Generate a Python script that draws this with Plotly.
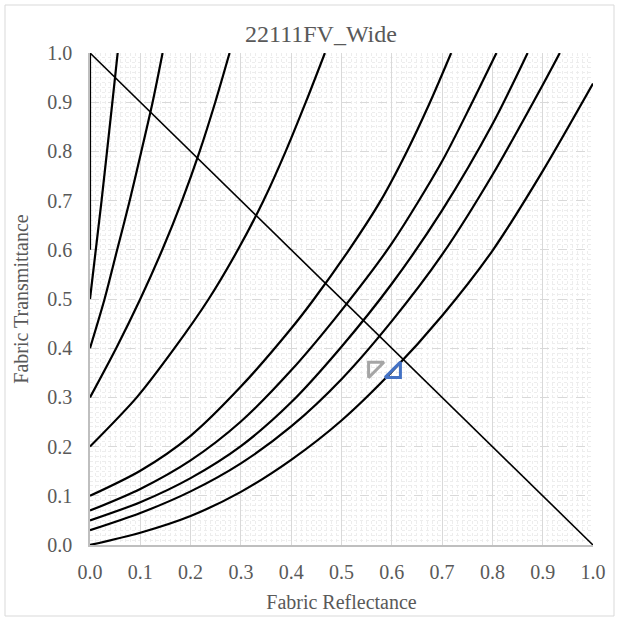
import plotly.graph_objects as go

# ---- data ----
title_text = "22111FV_Wide"
x_title = "Fabric Reflectance"
y_title = "Fabric Transmittance"
tick_vals = [0.0, 0.1, 0.2, 0.3, 0.4, 0.5, 0.6, 0.7, 0.8, 0.9, 1.0]
tick_text = ["0.0", "0.1", "0.2", "0.3", "0.4", "0.5", "0.6", "0.7", "0.8", "0.9", "1.0"]

c00_x = [0, 0.1, 0.2, 0.3, 0.4, 0.5, 0.6, 0.7, 0.8, 0.9, 1.0]
c00_y = [0, 0.025, 0.059, 0.108, 0.173, 0.253, 0.352, 0.466, 0.598, 0.76, 0.938]

c03_x = [0, 0.1, 0.2, 0.3, 0.4, 0.5, 0.6, 0.7, 0.8, 0.9, 0.934]
c03_y = [0.03, 0.065, 0.109, 0.166, 0.241, 0.337, 0.455, 0.59, 0.752, 0.935, 1.0]

c05_x = [0, 0.1, 0.2, 0.3, 0.4, 0.5, 0.6, 0.7, 0.8, 0.87]
c05_y = [0.05, 0.087, 0.136, 0.201, 0.29, 0.403, 0.531, 0.68, 0.855, 1.0]

c07_x = [0, 0.1, 0.2, 0.3, 0.4, 0.5, 0.6, 0.7, 0.76, 0.808]
c07_y = [0.07, 0.114, 0.172, 0.251, 0.355, 0.477, 0.613, 0.78, 0.9, 1.0]

c10_x = [0, 0.1, 0.2, 0.3, 0.4, 0.444, 0.515, 0.578, 0.63, 0.676, 0.718]
c10_y = [0.1, 0.151, 0.222, 0.322, 0.44, 0.498, 0.6, 0.7, 0.8, 0.9, 1.0]

c20_x = [0, 0.093, 0.168, 0.236, 0.294, 0.345, 0.389, 0.429, 0.467]
c20_y = [0.2, 0.3, 0.4, 0.5, 0.6, 0.7, 0.8, 0.9, 1.0]

c30_x = [0, 0.052, 0.1, 0.1437, 0.183, 0.218, 0.249, 0.2775]
c30_y = [0.3, 0.4, 0.5, 0.6, 0.7, 0.8, 0.9, 1.0]

c40_x = [0, 0.029, 0.054, 0.079, 0.102, 0.1245, 0.1443]
c40_y = [0.4, 0.5, 0.6, 0.7, 0.8, 0.9, 1.0]

c50_x = [0, 0.023, 0.0445, 0.055]
c50_y = [0.5, 0.7, 0.9, 1.0]

c60_x = [0, 0]
c60_y = [0.6, 1.0]

diag_x = [0, 1]
diag_y = [1, 0]

gray_pt_x = [0.564]
gray_pt_y = [0.361]
blue_pt_x = [0.607]
blue_pt_y = [0.351]

curves = [
    (c00_x, c00_y), (c03_x, c03_y), (c05_x, c05_y), (c07_x, c07_y),
    (c10_x, c10_y), (c20_x, c20_y), (c30_x, c30_y), (c40_x, c40_y),
    (c50_x, c50_y), (c60_x, c60_y),
]

FONT = "Liberation Serif"
TXT = "#595959"

fig = go.Figure()
for cx, cy in curves:
    fig.add_trace(go.Scatter(x=cx, y=cy, mode="lines",
                             line=dict(color="black", width=2.2, shape="spline", smoothing=0.8),
                             hoverinfo="skip", showlegend=False))
fig.add_trace(go.Scatter(x=diag_x, y=diag_y, mode="lines",
                         line=dict(color="black", width=1.6), showlegend=False))
fig.add_trace(go.Scatter(x=gray_pt_x, y=gray_pt_y, mode="markers",
                         marker=dict(symbol="triangle-nw-open", size=17, color="#a5a5a5",
                                     line=dict(width=3, color="#a5a5a5")), showlegend=False))
fig.add_trace(go.Scatter(x=blue_pt_x, y=blue_pt_y, mode="markers",
                         marker=dict(symbol="triangle-se-open", size=17, color="#4472c4",
                                     line=dict(width=3, color="#4472c4")), showlegend=False))

axis_common = dict(
    range=[0, 1], tickvals=tick_vals, ticktext=tick_text,
    showgrid=True, gridcolor="#d9d9d9", gridwidth=1,
    zeroline=False, showline=True, linecolor="#bfbfbf", linewidth=1.5,
    ticks="", tickfont=dict(family=FONT, size=20, color=TXT),
    minor=dict(dtick=0.01, showgrid=True, gridcolor="#ededed", gridwidth=1, griddash="dot"),
    fixedrange=True,
)

fig.update_layout(
    width=621, height=623,
    margin=dict(l=90, r=28, t=53, b=78),
    paper_bgcolor="white", plot_bgcolor="white",
    title=dict(text=title_text, x=(321 / 621), xanchor="center", y=1 - 34 / 623, yanchor="middle",
               font=dict(family=FONT, size=24, color=TXT)),
    xaxis=dict(**axis_common, ticklabelstandoff=8,
               title=dict(text=x_title, font=dict(family=FONT, size=20, color=TXT), standoff=13)),
    yaxis=dict(**axis_common, griddash="dash", ticklabelstandoff=12,
               title=dict(text=y_title, font=dict(family=FONT, size=20, color=TXT), standoff=13)),
    shapes=[dict(type="rect", xref="paper", yref="paper",
                 x0=(5 - 90) / 503, x1=(614 - 90) / 503,
                 y0=(545 - 616) / 492, y1=(545 - 5) / 492,
                 line=dict(color="#d9d9d9", width=1), layer="below")],
)

fig.write_html("out.html")
